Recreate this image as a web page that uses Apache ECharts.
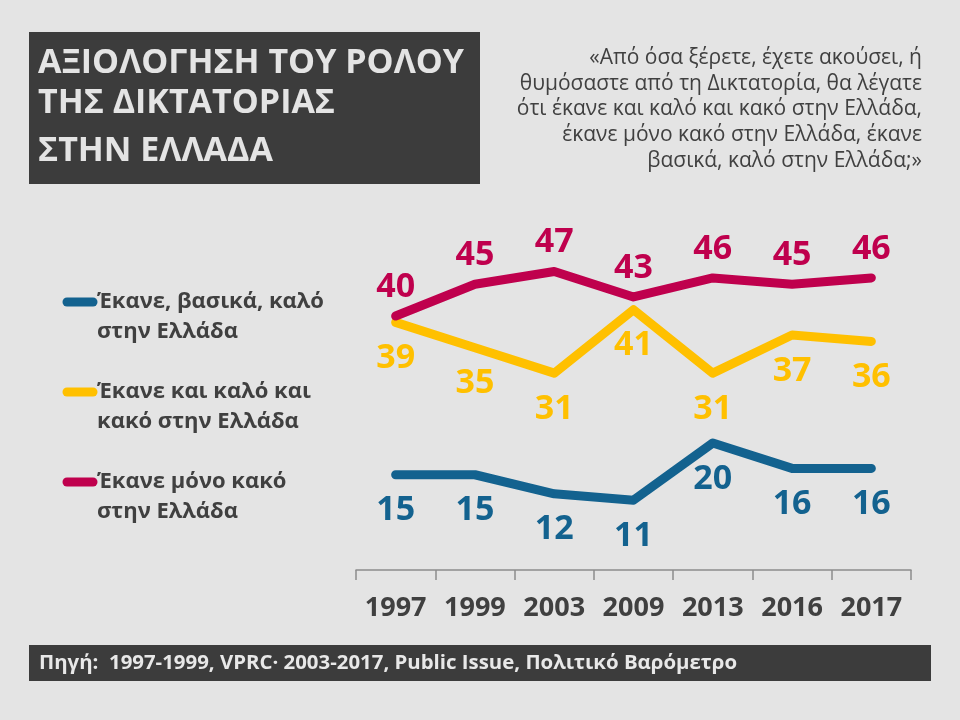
<!DOCTYPE html>
<html>
<head>
<meta charset="utf-8">
<script src="https://cdn.jsdelivr.net/npm/echarts@6/dist/echarts.min.js"></script>
<style>
html,body{margin:0;padding:0;background:#e4e4e4;}
#chart{width:960px;height:720px;}
</style>
</head>
<body>
<div id="chart"></div>
<script>
var years = ['1997','1999','2003','2009','2013','2016','2017'];
var seriesNames = ['Έκανε, βασικά, καλό\nστην Ελλάδα', 'Έκανε και καλό και\nκακό στην Ελλάδα', 'Έκανε μόνο κακό\nστην Ελλάδα'];
var goodValues = [15, 15, 12, 11, 20, 16, 16];
var bothValues = [39, 35, 31, 41, 31, 37, 36];
var badValues = [40, 45, 47, 43, 46, 45, 46];
var titleLines = ['ΑΞΙΟΛΟΓΗΣΗ ΤΟΥ ΡΟΛΟΥ', 'ΤΗΣ ΔΙΚΤΑΤΟΡΙΑΣ', 'ΣΤΗΝ ΕΛΛΑΔΑ'];
var questionText = '«Από όσα ξέρετε, έχετε ακούσει, ή\nθυμόσαστε από τη Δικτατορία, θα λέγατε\nότι έκανε και καλό και κακό στην Ελλάδα,\nέκανε μόνο κακό στην Ελλάδα, έκανε\nβασικά, καλό στην Ελλάδα;»';
var sourceText = 'Πηγή:  1997-1999, VPRC· 2003-2017, Public Issue, Πολιτικό Βαρόμετρο';

var FONT = '"Open Sans", "Noto Sans", sans-serif';
var colors = ['#13628f', '#ffc000', '#bf004d'];
var valueSets = [goodValues, bothValues, badValues];
var labelPos = ['bottom', 'bottom', 'top'];
var labelDist = [18, 18, 11];

var chart = echarts.init(document.getElementById('chart'));

var graphics = [
  {type:'rect', shape:{x:29, y:32, width:451, height:152}, style:{fill:'#3c3c3c'}, silent:true},
  {type:'rect', shape:{x:29, y:645, width:902, height:36}, style:{fill:'#3c3c3c'}, silent:true},
  {type:'text', x:39, y:663, style:{text:sourceText, fill:'#e8e8e8', font:'bold 20.4px ' + FONT, textVerticalAlign:'middle'}, silent:true},
  {type:'text', x:922, y:45, style:{text:questionText, fill:'#404040', font:'21px ' + FONT, textAlign:'right', textVerticalAlign:'top', lineHeight:25.8}, silent:true}
];
var titleY = [63, 103, 151];
titleLines.forEach(function(t, i){
  graphics.push({type:'text', x:38, y:titleY[i], style:{text:t, fill:'#e4e4e4', font:'bold 34px ' + FONT, textVerticalAlign:'middle'}, silent:true});
});
seriesNames.forEach(function(n, i){
  var cy = 302 + i * 90;
  graphics.push({type:'line', shape:{x1:67, y1:cy, x2:93, y2:cy}, style:{stroke:colors[i], lineWidth:9, lineCap:'round'}, silent:true});
  graphics.push({type:'text', x:97, y:cy - 15, style:{text:n, fill:'#404040', font:'bold 22px ' + FONT, textVerticalAlign:'top', lineHeight:30}, silent:true});
});

var series = valueSets.map(function(vals, i){
  return {
    name: seriesNames[i].replace('\n', ' '),
    type: 'line',
    data: vals,
    symbol: 'circle',
    symbolSize: 2,
    showSymbol: true,
    smooth: false,
    z: 3 + (i === 1 ? 0 : 1),
    lineStyle: {color: colors[i], width: 9, cap: 'round', join: 'round'},
    itemStyle: {color: colors[i]},
    label: {
      show: true,
      position: labelPos[i],
      distance: labelDist[i],
      color: colors[i],
      fontFamily: FONT,
      fontWeight: 'bold',
      fontSize: 34
    },
    labelLayout: {hideOverlap: false},
    emphasis: {disabled: true},
    animation: false
  };
});

chart.setOption({
  backgroundColor: '#e4e4e4',
  animation: false,
  grid: {left: 356, right: 49, top: 252.5, bottom: 150},
  xAxis: {
    type: 'category',
    data: years,
    boundaryGap: true,
    axisLine: {show: true, lineStyle: {color: '#8c8c8c', width: 1.5}},
    axisTick: {show: true, length: 10, lineStyle: {color: '#8c8c8c', width: 1.5}},
    axisLabel: {interval: 0, hideOverlap: false, color: '#404040', fontFamily: FONT, fontWeight: 'bold', fontSize: 27, margin: 25},
    splitLine: {show: false}
  },
  yAxis: {
    type: 'value',
    min: 0,
    max: 50,
    show: false,
    splitLine: {show: false}
  },
  graphic: graphics,
  series: series
});
</script>
</body>
</html>
